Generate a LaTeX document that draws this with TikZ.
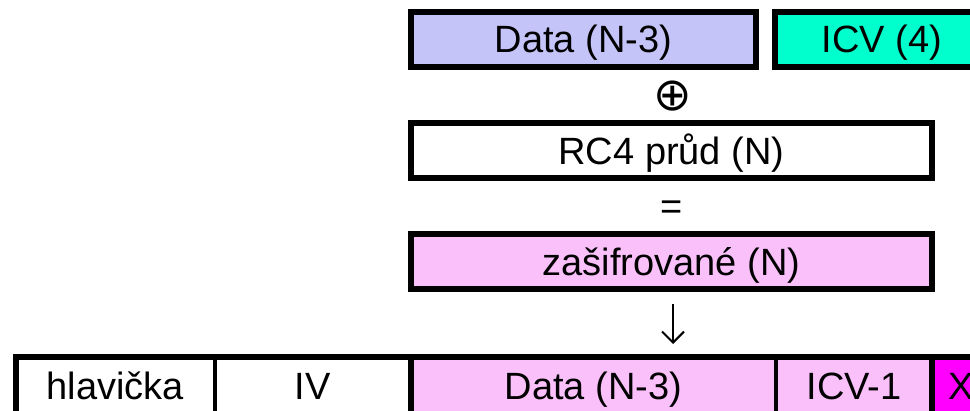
\documentclass[tikz,border=0pt]{standalone}
\usepackage{fontspec}
\setmainfont{Liberation Sans}
\newfontfamily\symfont{DejaVu Sans}
\usetikzlibrary{arrows.meta}

\definecolor{lav}{HTML}{C4C4F8}
\definecolor{aqua}{HTML}{00FFCC}
\definecolor{pinkcell}{HTML}{FAC0FA}
\definecolor{mag}{HTML}{FF00FF}

\tikzset{
  txt/.style={font=\fontsize{38}{40}\selectfont, text height=27pt, text depth=0pt, inner sep=0pt},
  box/.style={txt, draw, line width=6pt, outer sep=0pt, minimum height=55pt},
  cell/.style={txt, draw, line width=4pt, outer sep=0pt, minimum height=59pt},
  frame/.style={line width=6pt},
  sym/.style={font=\symfont\fontsize{46}{48}\selectfont, inner sep=0pt},
}

\begin{document}
\begin{tikzpicture}[x=1pt,y=-1pt]
        \useasboundingbox (0,0) rectangle (970,411);
        \clip (0,0) rectangle (970,411);
        % upper part
        \node[box, fill=lav, minimum width=345pt](data) at (583.5,39.5) {Data (N-3)};
        \node[box, fill=aqua, minimum width=214pt](icv) at (882,39.5) {ICV (4)};
        \node[sym](xor) at (673,96) {⊕};
        \node[box, fill=white, minimum width=521pt](rc) at (671.5,151) {RC4 průd (N)};
        \node[txt](eq) at (672,206) {=};
        \node[box, fill=pinkcell, minimum width=521pt](enc) at (671.5,262) {zašifrované (N)};
        % packet
        \node[cell, fill=white, minimum width=199pt](hl) at (115.5,386.5) {hlavička};
        \node[cell, fill=white, minimum width=195.5pt](iv) at (312.75,386.5) {IV};
        \node[cell, fill=pinkcell, minimum width=365.5pt](bdata) at (593.25,386.5) {Data (N-3)};
        \node[cell, fill=pinkcell, minimum width=156pt](bicv) at (854,386.5) {ICV-1};
        \node[cell, fill=mag, minimum width=58pt](bx) at (961,386.5) {X};
        \draw[frame](hl.south west)--(hl.north west)--(bx.north east);
        \draw[frame](iv.north east)--(iv.south east);
        \draw[frame](bicv.north east)--(bicv.south east);
        \draw[-{Straight Barb[length=11pt,width=22pt]}, line width=2pt, shorten <=15pt, shorten >=13pt]
          ([xshift=1.5pt]enc.south)--([xshift=1.5pt]enc.south |- bdata.north);
        \end{tikzpicture}
\end{document}
